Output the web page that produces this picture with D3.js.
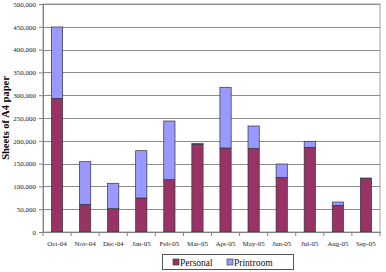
<!DOCTYPE html>
<html>
<head>
  <meta charset="UTF-8">
  <style>
    body { margin: 0; background: #fff; }
    svg text { font-family: "Liberation Serif", "Times New Roman", Tinos, "DejaVu Serif", serif !important; }
  </style>
</head>
<body>
<svg></svg>
<script src="https://d3js.org/d3.v7.min.js"></script>
<script>

let width = 386, height = 272;

const months = ["Oct-04", "Nov-04", "Dec-04", "Jan-05", "Feb-05", "Mar-05", "Apr-05", "May-05", "Jun-05", "Jul-05", "Aug-05", "Sep-05"];
const personal = [293000, 60700, 51100, 74600, 114700, 192300, 184200, 183600, 119900, 185700, 58500, 117800];
const printroom = [156600, 93500, 55700, 103700, 128700, 2200, 133100, 48900, 29200, 13200, 7300, 500];
const yTicks = [0, 50000, 100000, 150000, 200000, 250000, 300000, 350000, 400000, 450000, 500000];
const seriesNames = ["Personal", "Printroom"];
const seriesColors = ["#993366", "#9999ff"];

let svg = d3.select("svg")
    .attr("width", width)
    .attr("height", height);

let margin = {left: 43, right: 6, top: 4, bottom: 40};

let x = d3.scaleBand()
    .domain(months)
    .range([margin.left, width - margin.right])
    .paddingInner(0.6)
    .paddingOuter(0.3);

let y = d3.scaleLinear()
    .domain([0, 500000])
    .range([height - margin.bottom, margin.top]);

// plot border + grid
svg.append("rect")
    .attr("x", margin.left).attr("y", margin.top)
    .attr("width", width - margin.right - margin.left)
    .attr("height", y(0) - margin.top)
    .style("fill", "none")
    .style("stroke", "#a0a0a0")
    .style("stroke-width", 1);

svg.append("g")
    .selectAll("line")
    .data(yTicks.slice(1))
    .enter()
    .append("line")
    .attr("x1", margin.left).attr("x2", width - margin.right)
    .attr("y1", d => Math.round(y(d)) + 0.5).attr("y2", d => Math.round(y(d)) + 0.5)
    .style("stroke", "#8c8c8c")
    .style("stroke-width", 1);

// stacked bars
let rows = months.map((m, i) => ({month: m, Personal: personal[i], Printroom: printroom[i]}));
let stack = d3.stack().keys(seriesNames)(rows);

svg.append("g")
    .selectAll("g")
    .data(stack)
    .enter()
    .append("g")
    .style("fill", (d, i) => seriesColors[i])
    .selectAll("rect")
    .data(d => d)
    .enter()
    .append("rect")
    .attr("x", d => x(d.data.month))
    .attr("y", d => y(d[1]))
    .attr("width", x.bandwidth())
    .attr("height", d => y(d[0]) - y(d[1]))
    .style("stroke", "#333")
    .style("stroke-width", 0.7);

// y axis
let yAxis = d3.axisLeft(y)
    .tickValues(yTicks)
    .tickSize(4)
    .tickFormat(d3.format(","));

svg.append("g")
    .attr("transform", "translate(" + margin.left + ",0)")
    .call(yAxis)
    .attr("font-family", null)
    .call(g => g.select(".domain").style("stroke", "#808080"))
    .call(g => g.selectAll(".tick line").style("stroke", "#808080"))
    .call(g => g.selectAll(".tick text")
        .style("font-size", "7px")
        .style("fill", "#222"));

// x axis
let xAxis = d3.axisBottom(x).tickSize(0).tickSizeOuter(0);

let xg = svg.append("g")
    .attr("transform", "translate(0," + y(0) + ")")
    .call(xAxis)
    .attr("font-family", null)
    .call(g => g.select(".domain").style("stroke", "#808080"))
    .call(g => g.selectAll(".tick text")
        .attr("dy", "0")
        .attr("y", 14)
        .style("font-size", "7px")
        .style("fill", "#222"));

// category separator ticks
let catW = (width - margin.right - margin.left) / months.length;
xg.selectAll(".sep")
    .data(d3.range(months.length + 1))
    .enter()
    .append("line")
    .attr("x1", i => margin.left + i * catW)
    .attr("x2", i => margin.left + i * catW)
    .attr("y1", 0).attr("y2", 4)
    .style("stroke", "#808080");

// y title
svg.append("text")
    .attr("transform", "translate(9," + 118 + ") rotate(-90)")
    .attr("text-anchor", "middle")
    .style("font-size", "10.5px")
    .style("font-weight", "bold")
    .text("Sheets of A4 paper");

// legend
let legend = svg.append("g").attr("transform", "translate(162,254)");
legend.append("rect")
    .attr("x", 0.5).attr("y", 0.5)
    .attr("width", 131).attr("height", 15)
    .style("fill", "#fff")
    .style("stroke", "#555")
    .style("stroke-width", 1);

let items = legend.selectAll("g.item")
    .data(seriesNames)
    .enter()
    .append("g").attr("class", "item")
    .attr("transform", (d, i) => "translate(" + (i === 0 ? 11 : 65) + ",0)");

items.append("rect")
    .attr("x", 0).attr("y", 5)
    .attr("width", 6).attr("height", 6)
    .style("fill", (d, i) => seriesColors[i])
    .style("stroke", "#333")
    .style("stroke-width", 0.6);

items.append("text")
    .attr("x", 7).attr("y", 11.5)
    .style("font-size", "9.5px")
    .style("fill", "#111")
    .text(d => d);

</script>
</body>
</html>
